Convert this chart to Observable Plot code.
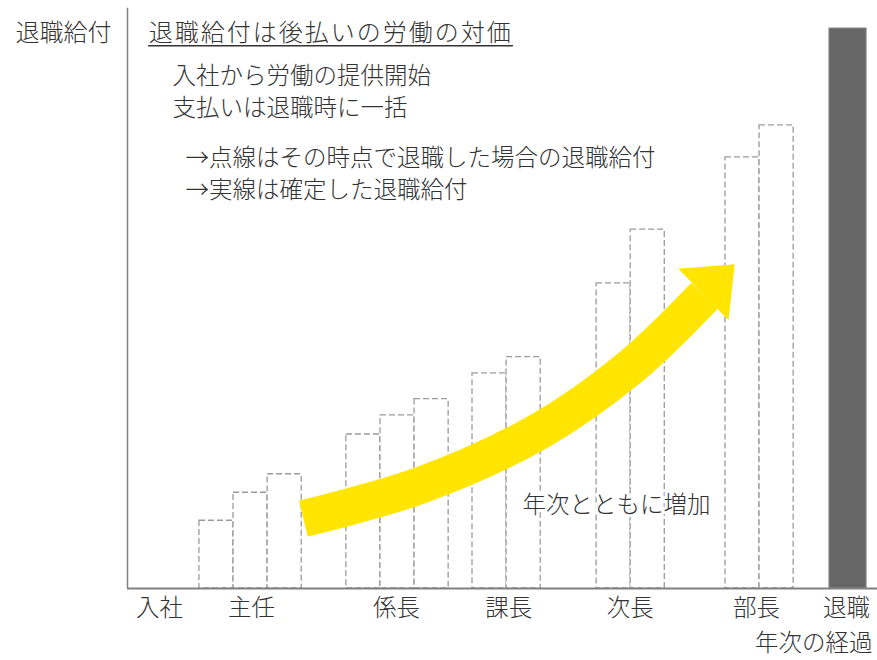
<!DOCTYPE html>
<html>
<head>
<meta charset="utf-8">
<script src="https://cdn.jsdelivr.net/npm/d3@7"></script>
<script src="https://cdn.jsdelivr.net/npm/@observablehq/plot@0.6"></script>
<style>
  html, body { margin: 0; padding: 0; background: #fff; }
</style>
</head>
<body>
<div id="chart"></div>
<script>
// Dashed bars: start position (years of service) and accrued benefit
const barStart = [2.11, 3.11, 4.11, 6.42, 7.42, 8.42, 10.12, 11.12, 13.76, 14.76, 17.54, 18.54];
const barValue = [12.1, 17.1, 20.4, 27.5, 30.9, 33.8, 38.4, 41.3, 54.5, 64.1, 77.0, 82.7];
const barWidth = 1;

// Final (confirmed) retirement benefit
const retireStart = [20.59];
const retireEnd = [21.68];
const retireValue = [100];

// Category labels along the x axis
const catLabels = ["入社", "主任", "係長", "課長", "次長", "部長", "退職"];
const catPos = [0.94, 3.64, 7.89, 11.18, 14.75, 18.45, 21.09];

// Annotation texts
const noteText = [
  "入社から労働の提供開始",
  "支払いは退職時に一括",
  "→点線はその時点で退職した場合の退職給付",
  "→実線は確定した退職給付",
  "年次とともに増加"
];
const noteX = [1.32, 1.32, 1.70, 1.70, 11.59];
const noteY = [91.4, 85.7, 76.8, 71.1, 14.8];

// Underlined heading
const titleText = ["退職給付は後払いの労働の対価"];
const titleX = [0.62];
const titleEnd = [11.32];
const titleY = [99.1];
const underlineY = [96.9];

const yTitle = ["退職給付"];
const xTitle = ["年次の経過"];

// Arrow (trend) centre-line and head
const arrowX = [5.16, 8.59, 12.11, 14.75, 16.93];
const arrowY = [12.5, 18.4, 28.2, 39.5, 52.3];
const headX = [16.16, 17.81, 17.63];
const headY = [57.1, 57.9, 47.9];

const xMax = 22;
const yAxisTop = 103.6;

const bars = barStart.map((s, i) => ({x1: s, x2: s + barWidth, y: barValue[i]}));
const retire = retireStart.map((s, i) => ({x1: s, x2: retireEnd[i], y: retireValue[i]}));
const cats = catLabels.map((t, i) => ({t, x: catPos[i]}));
const notes = noteText.map((t, i) => ({t, x: noteX[i], y: noteY[i]}));
const titles = titleText.map((t, i) => ({t, x: titleX[i], x2: titleEnd[i], y: titleY[i], u: underlineY[i]}));
const arrow = arrowX.map((x, i) => ({x, y: arrowY[i]}));
const head = headX.map((x, i) => ({x, y: headY[i]}));

const FONT = "'Noto Sans CJK JP', 'Noto Sans CJK SC', sans-serif";
const TXT = "#333333";
const YEL = "#FFE500";

const chart = Plot.plot({
  width: 877,
  height: 660,
  marginLeft: 127,
  marginRight: 0,
  marginTop: 28,
  marginBottom: 72,
  x: {domain: [0, xMax], axis: null},
  y: {domain: [0, 100], axis: null},
  style: {fontFamily: FONT, background: "white", color: TXT, overflow: "visible"},
  marks: [
    Plot.rect(bars, {x1: "x1", x2: "x2", y1: 0, y2: "y", fill: "white", stroke: "#9a9a9a", strokeWidth: 1.3, strokeDasharray: "6,3"}),
    Plot.rect(retire, {x1: "x1", x2: "x2", y1: 0, y2: "y", fill: "#666666", stroke: "#8a8a8a", strokeWidth: 1}),
    Plot.line(arrow, {x: "x", y: "y", stroke: YEL, strokeWidth: 37, curve: "catmull-rom", strokeLinecap: "butt", strokeLinejoin: "round"}),
    Plot.line(head, {x: "x", y: "y", fill: YEL, stroke: "none"}),
    Plot.ruleY([0], {x1: 0, x2: xMax, stroke: "#808080", strokeWidth: 2}),
    Plot.ruleX([0], {y1: 0, y2: yAxisTop, stroke: "#808080", strokeWidth: 1.5, clip: false}),
    Plot.text(titles, {x: "x", y: "y", text: "t", textAnchor: "start", fontSize: 24, fill: TXT, fontWeight: 300}),
    Plot.ruleY(titles, {y: "u", x1: "x", x2: "x2", stroke: TXT, strokeWidth: 1.5}),
    Plot.text(notes, {x: "x", y: "y", text: "t", textAnchor: "start", fontSize: 23.5, fill: TXT, fontWeight: 300, stroke: "white", strokeWidth: 6}),
    Plot.text(yTitle, {x: 0, y: titleY[0], text: d => d, textAnchor: "end", dx: -16, fontSize: 24, fill: TXT, fontWeight: 300}),
    Plot.text(cats, {x: "x", y: 0, text: "t", dy: 20, fontSize: 23.5, fill: TXT, fontWeight: 300}),
    Plot.text(xTitle, {x: xMax, y: 0, text: d => d, textAnchor: "end", dx: -5, dy: 55, fontSize: 23.5, fill: TXT, fontWeight: 300})
  ]
});

// widen the heading to span its underline, as in the original
d3.select(chart).selectAll("text")
  .filter(function () { return this.textContent === titleText[0]; })
  .style("letter-spacing", "2px");

document.getElementById("chart").appendChild(chart);
</script>
</body>
</html>
